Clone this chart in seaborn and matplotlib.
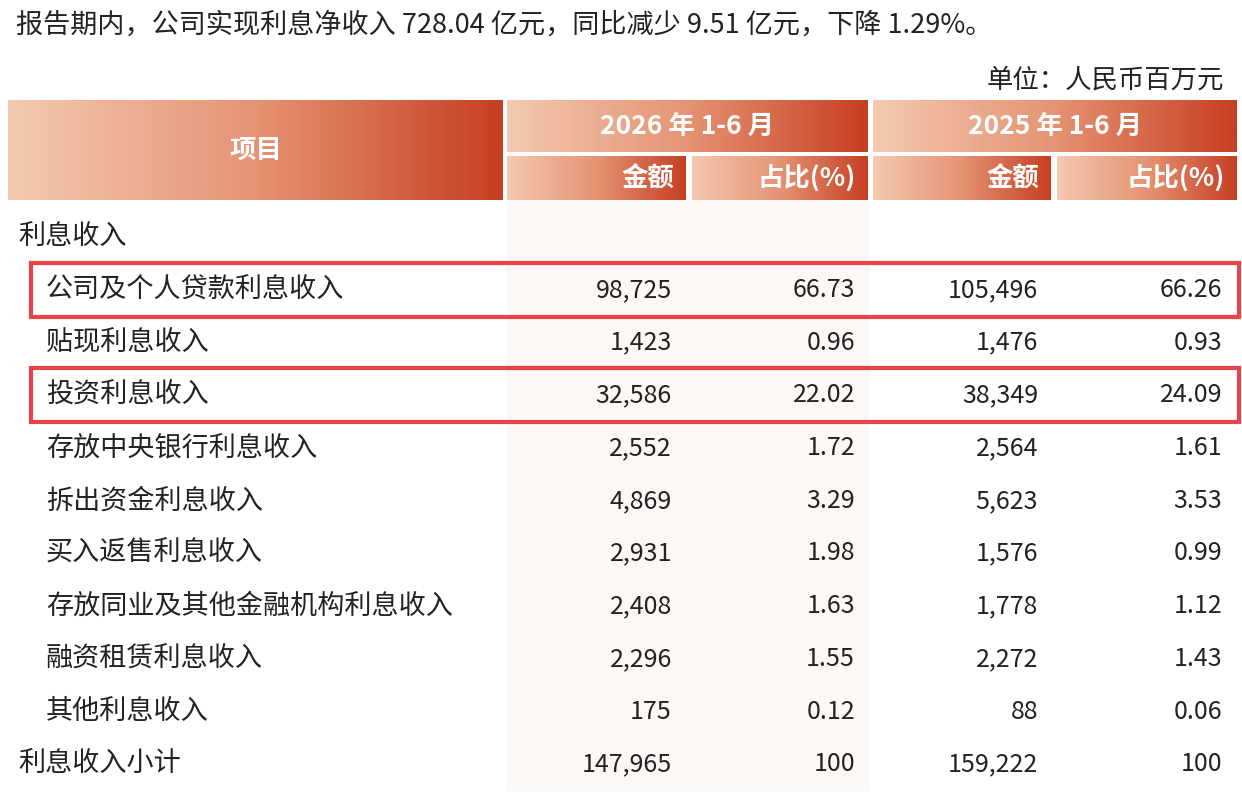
import numpy as np
import matplotlib
matplotlib.use("Agg")
import matplotlib.pyplot as plt
from matplotlib.patches import Rectangle
from matplotlib.colors import LinearSegmentedColormap
import seaborn as sns

sns.set_style("white")
plt.rcParams['font.family'] = ['Noto Sans CJK SC', 'DejaVu Sans']

# ---------------------------------------------------------------- data
title = "报告期内，公司实现利息净收入 728.04 亿元，同比减少 9.51 亿元，下降 1.29%。"
unit = "单位：人民币百万元"
periods = ["2026 年 1-6 月", "2025 年 1-6 月"]
sub_headers = ["金额", "占比(%)"]
items = ["公司及个人贷款利息收入", "贴现利息收入", "投资利息收入", "存放中央银行利息收入",
         "拆出资金利息收入", "买入返售利息收入", "存放同业及其他金融机构利息收入",
         "融资租赁利息收入", "其他利息收入", "利息收入小计"]
amt_2026 = ["98,725", "1,423", "32,586", "2,552", "4,869", "2,931", "2,408", "2,296", "175", "147,965"]
pct_2026 = ["66.73", "0.96", "22.02", "1.72", "3.29", "1.98", "1.63", "1.55", "0.12", "100"]
amt_2025 = ["105,496", "1,476", "38,349", "2,564", "5,623", "1,576", "1,778", "2,272", "88", "159,222"]
pct_2025 = ["66.26", "0.93", "24.09", "1.61", "3.53", "0.99", "1.12", "1.43", "0.06", "100"]
highlighted = [0, 2]

fig = plt.figure(figsize=(12.42, 8), dpi=100)
ax = fig.add_axes([0, 0, 1, 1])
ax.set_xlim(0, 1242)
ax.set_ylim(800, 0)
ax.axis("off")

cmap = LinearSegmentedColormap.from_list("hdr", ["#f3c9b0", "#e59373", "#c63f22"])
grad = np.linspace(0, 1, 256).reshape(1, -1)


def header_box(x0, x1, y0, y1, text):
    ax.imshow(grad, cmap=cmap, extent=(x0, x1, y1, y0), aspect="auto", zorder=1)
    ax.text((x0 + x1) / 2, (y0 + y1) / 2, text, color="white", fontsize=19,
            fontweight="bold", ha="center", va="center", zorder=3)


# light column backgrounds
ax.add_patch(Rectangle((507, 200), 361, 590, color="#fdf8f6", zorder=0))

header_box(8, 503, 100, 200, "项目")
period_x = [(507, 868), (873, 1237)]
sub_x = [[(507, 686), (692, 868)], [(873, 1051), (1057, 1237)]]
for p, (x0, x1) in zip(periods, period_x):
    header_box(x0, x1, 100, 152, p)
for cols in sub_x:
    for sh, (x0, x1) in zip(sub_headers, cols):
        ax.imshow(grad, cmap=cmap, extent=(x0, x1, 200, 156), aspect="auto", zorder=1)
        ax.text(x1 - 12, 179, sh, color="white", fontsize=19, fontweight="bold",
                ha="right", va="center", zorder=3)

ax.text(16, 25, title, fontsize=19.5, va="center", color="#222222")
ax.text(1224, 80, unit, fontsize=19, ha="right", va="center", color="#222222")
ax.text(18, 237, "利息收入", fontsize=19.5, va="center", color="#222222")

row_y = np.arange(len(items)) * 52.7 + 290
for i, y in enumerate(row_y):
    last = i == len(items) - 1
    ax.text(18 if last else 46, y, items[i], fontsize=19.5, va="center", color="#222222")
    for val, x in zip([amt_2026[i], pct_2026[i], amt_2025[i], pct_2025[i]], [672, 855, 1038, 1222]):
        ax.text(x, y, val, fontsize=18, ha="right", va="center", color="#222222")

for i in highlighted:
    y = row_y[i]
    ax.add_patch(Rectangle((31, y - 27), 1208, 54, fill=False, edgecolor="#e8434a",
                           linewidth=3, zorder=4))

fig.savefig("out.png", dpi=100, facecolor="white")
